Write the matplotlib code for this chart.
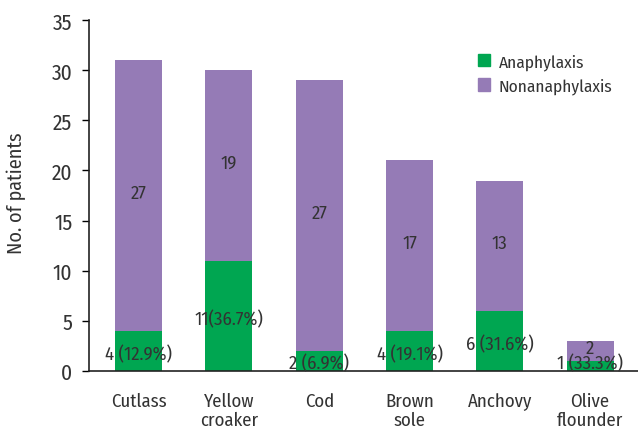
import matplotlib
matplotlib.use("Agg")
import matplotlib.pyplot as plt
from matplotlib.patches import Patch

plt.rcParams['font.family'] = ['Fira Sans Condensed', 'PT Sans Narrow', 'Liberation Sans', 'DejaVu Sans']

categories = ["Cutlass", "Yellow\ncroaker", "Cod", "Brown\nsole", "Anchovy", "Olive\nflounder"]
anaphylaxis = [4, 11, 2, 4, 6, 1]
nonanaphylaxis = [27, 19, 27, 17, 13, 2]
ana_labels = ["4 (12.9%)", "11(36.7%)", "2 (6.9%)", "4 (19.1%)", "6 (31.6%)", "1 (33.3%)"]

green = "#00a651"
purple = "#957bb6"
text_color = "#333333"

fig = plt.figure(figsize=(6.38, 4.31), dpi=100)
ax = fig.add_axes([0.1395, 0.137, 0.8605, 0.814])

x = list(range(len(categories)))
ax.bar(x, anaphylaxis, width=0.52, color=green, zorder=2)
ax.bar(x, nonanaphylaxis, bottom=anaphylaxis, width=0.52, color=purple, zorder=2)

for xi, a, n, lab in zip(x, anaphylaxis, nonanaphylaxis, ana_labels):
    ax.text(xi, max(a / 2 - 0.3, 0.8), lab, ha="center", va="center", fontsize=13.5, color=text_color, zorder=3)
    ax.text(xi, a + n / 2 + 0.3, str(n), ha="center", va="center", fontsize=13.5, color=text_color, zorder=3)

ax.set_xlim(-0.55, 5.53)
ax.set_ylim(0, 35)
ax.set_yticks(range(0, 36, 5))
ax.set_xticks(x)
ax.set_xticklabels(categories, fontsize=13.5, color=text_color, linespacing=1.1)
ax.tick_params(axis="x", length=0, pad=15)
ax.tick_params(axis="y", direction="out", length=5, width=1, labelsize=15.5, labelcolor=text_color, pad=7)
ax.set_ylabel("No. of patients", fontsize=14.5, color=text_color)
ax.yaxis.set_label_coords(-0.115, 0.51)

for side in ("top", "right"):
    ax.spines[side].set_visible(False)
for side in ("left", "bottom"):
    ax.spines[side].set_color("#222222")
    ax.spines[side].set_linewidth(1.2)

handles = [Patch(color=green, label="Anaphylaxis"), Patch(color=purple, label="Nonanaphylaxis")]
leg = ax.legend(handles=handles, loc="upper left", bbox_to_anchor=(0.68, 0.95), frameon=False,
                fontsize=12.5, handlelength=0.7, handleheight=0.7, handletextpad=0.5, labelspacing=0.45)
for t in leg.get_texts():
    t.set_color(text_color)

fig.savefig("out.png", dpi=100)
